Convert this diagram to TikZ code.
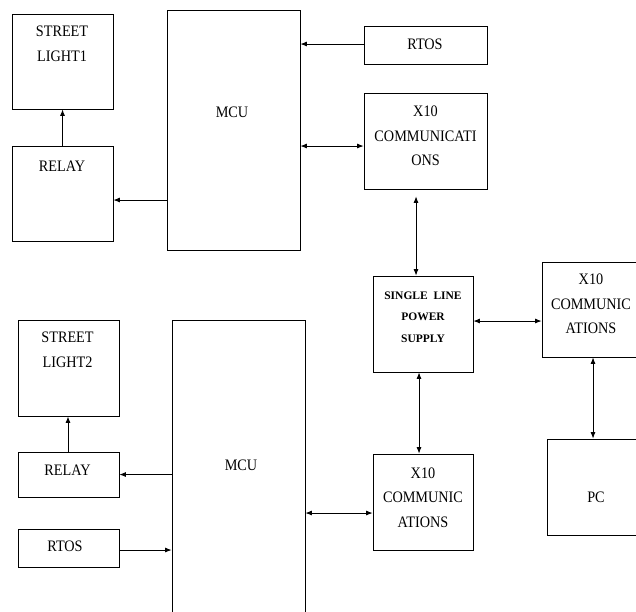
\documentclass[tikz,border=0pt]{standalone}
\usepackage{fontspec}
\setmainfont{Liberation Serif}[FakeStretch=0.89]
\newfontfamily\slpsfont{Liberation Serif}
\usetikzlibrary{arrows.meta}
\tikzset{
  blk/.style={draw=black, line width=0.8pt, inner sep=0pt},
  txt/.style={inner sep=0pt, align=center, font=\fontsize{16}{24.5}\selectfont},
  smalltxt/.style={inner sep=0pt, align=center, font=\slpsfont\bfseries\fontsize{11.5}{21.5}\selectfont},
  arr/.style={line width=0.8pt, -{Latex[length=6.5pt,width=5pt]}},
  biarr/.style={line width=0.8pt, {Latex[length=6.5pt,width=5pt]}-{Latex[length=6.5pt,width=5pt]}}
}
\begin{document}
\begin{tikzpicture}[x=1pt,y=-1pt]
\useasboundingbox (0,0) rectangle (636,611);
% boxes
\node[blk, minimum width=101pt, minimum height=95pt] (sl1) at (62.5,61.5) {};
\node[blk, minimum width=101pt, minimum height=95pt] (relay1) at (62.5,193.5) {};
\node[blk, minimum width=133pt, minimum height=240pt] (mcu1) at (233.5,130) {};
\node[blk, minimum width=123pt, minimum height=38pt] (rtos1) at (425.5,45) {};
\node[blk, minimum width=123pt, minimum height=96pt] (x10a) at (425.5,141) {};
\node[blk, minimum width=100pt, minimum height=96pt] (slps) at (423,324) {};
\node[blk, minimum width=98pt, minimum height=95pt] (x10b) at (591,309.5) {};
\node[blk, minimum width=93pt, minimum height=96pt] (pc) at (593.5,487) {};
\node[blk, minimum width=100pt, minimum height=96pt] (x10c) at (423,502) {};
\node[blk, minimum width=101pt, minimum height=96pt] (sl2) at (68.5,368) {};
\node[blk, minimum width=101pt, minimum height=45pt] (relay2) at (68.5,474.5) {};
\node[blk, minimum width=101pt, minimum height=38pt] (rtos2) at (68.5,548) {};
\node[blk, minimum width=133pt, minimum height=300pt] (mcu2) at (238.5,470) {};
% texts
\node[txt] (tsl1) at (62,44) {STREET\\LIGHT1};
\node[txt] (trelay1) at (62,166) {RELAY};
\node[txt] (tmcu1) at (232,112) {MCU};
\node[txt] (trtos1) at (425,44) {RTOS};
\node[txt] (tx10a) at (425.5,136) {X10\\COMMUNICATI\\ONS};
\node[smalltxt] (tslps) at (423,317) {SINGLE\ \ LINE\\POWER\\SUPPLY};
\node[txt] (tx10b) at (591,304) {X10\\COMMUNIC\\ATIONS};
\node[txt] (tpc) at (596,497) {PC};
\node[txt] (tx10c) at (423,497.5) {X10\\COMMUNIC\\ATIONS};
\node[txt] (tsl2) at (67.5,350) {STREET\\LIGHT2};
\node[txt] (trelay2) at (67.5,470) {RELAY};
\node[txt] (trtos2) at (65,546) {RTOS};
\node[txt] (tmcu2) at (241,465) {MCU};
% connectors
\draw[arr] ([yshift=1pt]rtos1.west) -- ([yshift=1pt]rtos1.west -| mcu1.east);
\draw[arr] ([yshift=-6.5pt]relay1.east -| mcu1.west) -- ([yshift=-6.5pt]relay1.east);
\draw[arr] (relay1.north) -- (sl1.south);
\draw[biarr] ([yshift=-5pt]x10a.west -| mcu1.east) -- ([yshift=-5pt]x10a.west);
\draw[biarr, shorten >=7pt] ([xshift=-7pt]slps.north) -- ([xshift=-7pt]slps.north |- x10a.south);
\draw[biarr] ([yshift=3pt]slps.east) -- ([yshift=3pt]slps.east -| x10b.west);
\draw[biarr] ([xshift=2pt]x10b.south) -- ([xshift=2pt]x10b.south |- pc.north);
\draw[biarr] ([xshift=-4pt]slps.south) -- ([xshift=-4pt]slps.south |- x10c.north);
\draw[biarr] ([yshift=-11pt]x10c.west -| mcu2.east) -- ([yshift=-11pt]x10c.west);
\draw[arr] (relay2.east -| mcu2.west) -- (relay2.east);
\draw[arr] ([yshift=-2pt]rtos2.east) -- ([yshift=-2pt]rtos2.east -| mcu2.west);
\draw[arr] ([xshift=-0.5pt]relay2.north) -- ([xshift=-0.5pt]sl2.south);
\end{tikzpicture}
\end{document}
